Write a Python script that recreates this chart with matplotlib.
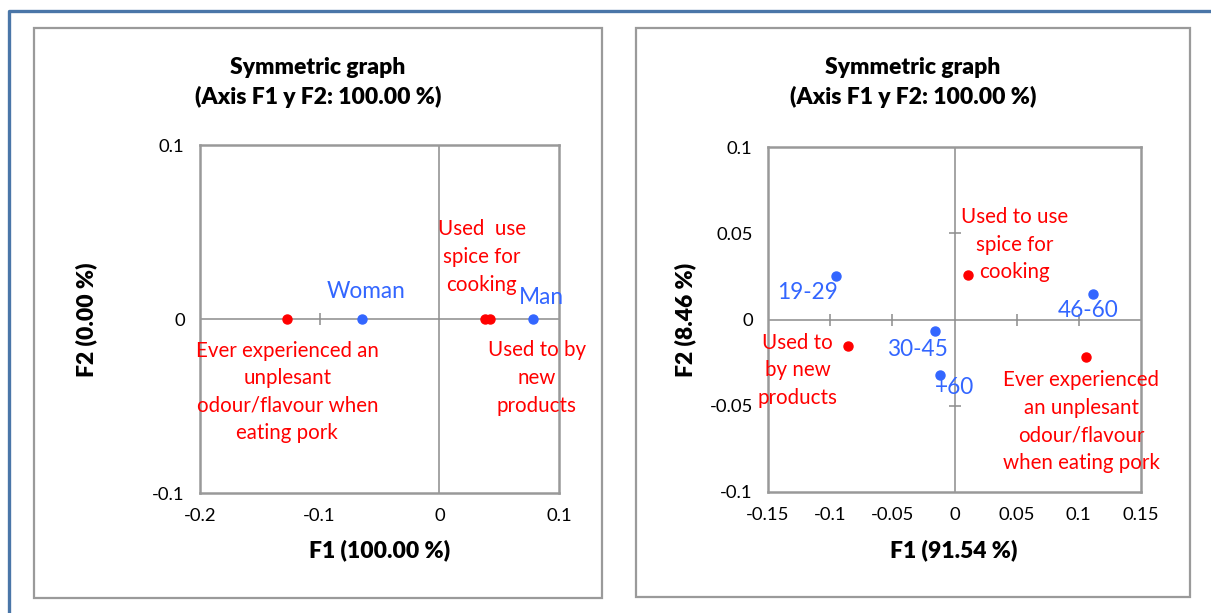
import matplotlib
matplotlib.use("Agg")
import matplotlib.pyplot as plt
from matplotlib.patches import Rectangle
from matplotlib.lines import Line2D

plt.rcParams['font.family'] = ['Lato', 'DejaVu Sans']

RED = '#FF0000'
BLUE = '#3366FF'
GRID = '#8C8C8C'

# left panel: gender
gender_labels = ['Woman', 'Man']
gender_f1 = [-0.065, 0.0785]
gender_f2 = [0.0, 0.0]
habit_labels_l = ['Ever experienced an\nunplesant\nodour/flavour when\neating pork',
                  'Used  use\nspice for\ncooking',
                  'Used to by\nnew\nproducts']
habit_f1_l = [-0.127, 0.038, 0.042]
habit_f2_l = [0.0, 0.0, 0.0]

# right panel: age
age_labels = ['19-29', '30-45', '46-60', '+60']
age_f1 = [-0.095, -0.016, 0.111, -0.0113]
age_f2 = [0.025, -0.0064, 0.015, -0.032]
habit_labels_r = ['Used to use\nspice for\ncooking',
                  'Used to\nby new\nproducts',
                  'Ever experienced\nan unplesant\nodour/flavour\nwhen eating pork']
habit_f1_r = [0.0105, -0.086, 0.106]
habit_f2_r = [0.026, -0.0156, -0.022]

xticks_l = [-0.2, -0.1, 0, 0.1]
yticks_l = [-0.1, 0, 0.1]
xticks_r = [-0.15, -0.1, -0.05, 0, 0.05, 0.1, 0.15]
yticks_r = [-0.1, -0.05, 0, 0.05, 0.1]

# label offsets in pixels (dx, dy)
off_gender = [(4, 28), (8, 22)]
off_habit_l = [(0, -73), (-3, 62), (47, -59)]
off_age = [(-29, -16), (-17, -19), (-4, -17), (14, -13)]
off_habit_r = [(47, 30), (-50, -24), (-5, -64)]


def fmt(v):
    return '0' if v == 0 else ('%g' % v)


def setup_axes(ax, xt, yt):
    ax.set_xlim(xt[0], xt[-1])
    ax.set_ylim(yt[0], yt[-1])
    ax.set_xticks(xt, [fmt(v) for v in xt])
    ax.set_yticks(yt, [fmt(v) for v in yt])
    ax.tick_params(length=0, labelsize=13.3, pad=11)
    for s in ax.spines.values():
        s.set_color('#999999')
        s.set_linewidth(1.8)
    ax.axhline(0, color=GRID, lw=1.1, zorder=1)
    ax.axvline(0, color=GRID, lw=1.1, zorder=1)
    # excel style cross ticks on the zero lines
    inner_x = [v for v in xt[1:-1] if v != 0]
    inner_y = [v for v in yt[1:-1] if v != 0]
    ax.plot(inner_x, [0] * len(inner_x), ls='', marker='|', ms=9, mew=1.1, color=GRID, zorder=1)
    ax.plot([0] * len(inner_y), inner_y, ls='', marker='_', ms=9, mew=1.1, color=GRID, zorder=1)


def put_labels(ax, xs, ys, labels, offs, color, size):
    ax.plot(xs, ys, ls='', marker='o', ms=6.5, color=color, zorder=3)
    for x, y, t, (dx, dy) in zip(xs, ys, labels, offs):
        ax.annotate(t, (x, y), xytext=(dx, dy), textcoords='offset pixels',
                    ha='center', va='center', color=color, fontsize=size,
                    linespacing=1.47, annotation_clip=False, zorder=4)


fig = plt.figure(figsize=(12.11, 6.13), dpi=100)
W, H = 1211, 613

# outer blue border (left and top)
fig.add_artist(Line2D([9 / W, 9 / W, 1], [0, 1 - 11 / H, 1 - 11 / H],
                      transform=fig.transFigure, color='#4A76A8', lw=2.4))

# panel frames
for x0, x1, y0, y1 in [(34, 602, 28, 598), (636, 1190, 28, 597)]:
    fig.add_artist(Rectangle((x0 / W, 1 - y1 / H), (x1 - x0) / W, (y1 - y0) / H,
                             transform=fig.transFigure, fill=False,
                             edgecolor='#9A9A9A', lw=1.6))

ax1 = fig.add_axes([200 / W, 1 - 493 / H, 359 / W, 348 / H])
ax2 = fig.add_axes([768 / W, 1 - 492 / H, 373 / W, 345 / H])

setup_axes(ax1, xticks_l, yticks_l)
setup_axes(ax2, xticks_r, yticks_r)

put_labels(ax1, habit_f1_l, habit_f2_l, habit_labels_l, off_habit_l, RED, 14.8)
put_labels(ax1, gender_f1, gender_f2, gender_labels, off_gender, BLUE, 16.3)
put_labels(ax2, habit_f1_r, habit_f2_r, habit_labels_r, off_habit_r, RED, 14.8)
put_labels(ax2, age_f1, age_f2, age_labels, off_age, BLUE, 16.3)

bold = dict(fontsize=16.5, fontweight='heavy', ha='center', va='center')
for cx in [318 / W, 913 / W]:
    fig.text(cx, 1 - 67 / H, 'Symmetric graph', **bold)
    fig.text(cx, 1 - 97 / H, '(Axis F1 y F2: 100.00 %)', **bold)

fig.text(380 / W, 1 - 550 / H, 'F1 (100.00 %)', **bold)
fig.text(954 / W, 1 - 550 / H, 'F1 (91.54 %)', **bold)
fig.text(86 / W, 1 - 320 / H, 'F2 (0.00 %)', rotation=90, **bold)
fig.text(685 / W, 1 - 320 / H, 'F2 (8.46 %)', rotation=90, **bold)

fig.savefig('out.png', dpi=100)
